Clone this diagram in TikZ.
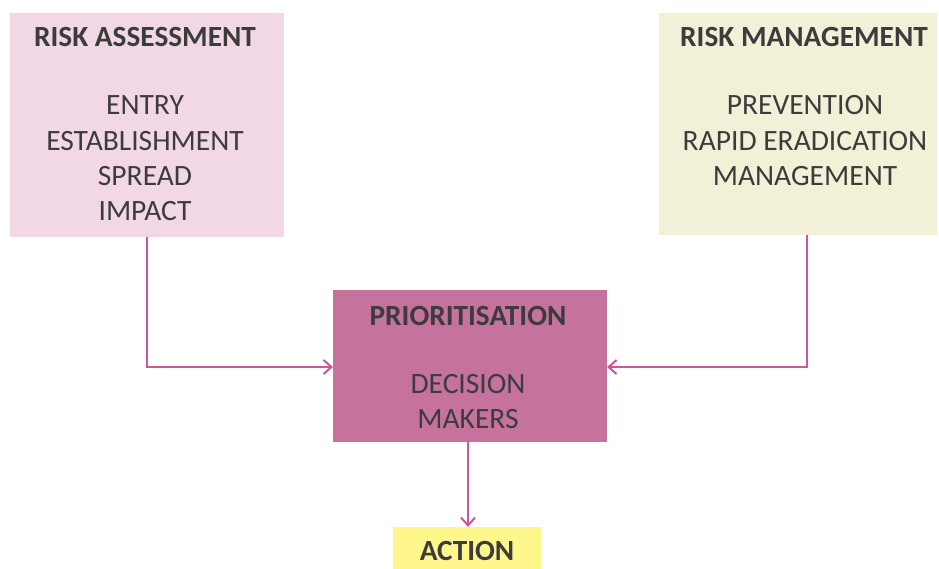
\documentclass[tikz,border=0pt]{standalone}
\usepackage{fontspec}
\setmainfont{Carlito}
\usetikzlibrary{arrows.meta}
\definecolor{raFill}{HTML}{F2D8E5}
\definecolor{rmFill}{HTML}{F2F1D8}
\definecolor{prFill}{HTML}{C5739D}
\definecolor{acFill}{HTML}{FFF68C}
\definecolor{lnCol}{HTML}{D2559A}
\definecolor{txCol}{HTML}{3C3C3C}
\tikzset{
  boxshape/.style={draw=none, inner sep=0pt, outer sep=0pt, anchor=north west},
  lbl/.style={anchor=base, inner sep=0pt, text=txCol, font=\fontsize{29.5}{34}\selectfont},
  hdr/.style={lbl, font=\fontsize{29.3}{34}\selectfont\bfseries},
  conn/.style={draw=lnCol, line width=2pt, -{Straight Barb[length=8pt, width=14pt, line width=2pt]}}
}
\begin{document}
\begin{tikzpicture}[x=1pt, y=-1pt]
\useasboundingbox (0,0) rectangle (939,569);
% boxes
\node[boxshape, fill=raFill, minimum width=274pt, minimum height=224pt] (ra) at (10,13) {};
\node[boxshape, fill=rmFill, minimum width=278pt, minimum height=222pt] (rm) at (659,13) {};
\node[boxshape, fill=prFill, minimum width=274pt, minimum height=152pt] (pr) at (333,290) {};
\node[boxshape, fill=acFill, minimum width=148pt, minimum height=42pt] (ac) at (393,527) {};
% texts: risk assessment
\node[hdr] (raH) at (145,47) {RISK ASSESSMENT};
\node[lbl] (ra1) at (145,115) {ENTRY};
\node[lbl] (ra2) at (145,151) {ESTABLISHMENT};
\node[lbl] (ra3) at (145,186) {SPREAD};
\node[lbl] (ra4) at (145,221) {IMPACT};
% risk management
\node[hdr] (rmH) at (804,47) {RISK MANAGEMENT};
\node[lbl] (rm1) at (805,115) {PREVENTION};
\node[lbl] (rm2) at (805,151) {RAPID ERADICATION};
\node[lbl] (rm3) at (805,186) {MANAGEMENT};
% prioritisation
\node[hdr] (prH) at (468,325) {PRIORITISATION};
\node[lbl] (pr1) at (468,393) {DECISION};
\node[lbl] (pr2) at (468,428) {MAKERS};
% action
\node[hdr] (acH) at (467,560) {ACTION};
% connectors
\coordinate (raS) at (147,237);
\coordinate (rmS) at (807,235);
\draw[conn] (raS) |- (pr.west |- 0,367);
\draw[conn] (rmS) |- (pr.east |- 0,367);
\draw[conn] (pr.south -| 468,0) -- (ac.north -| 468,0);
\end{tikzpicture}
\end{document}
